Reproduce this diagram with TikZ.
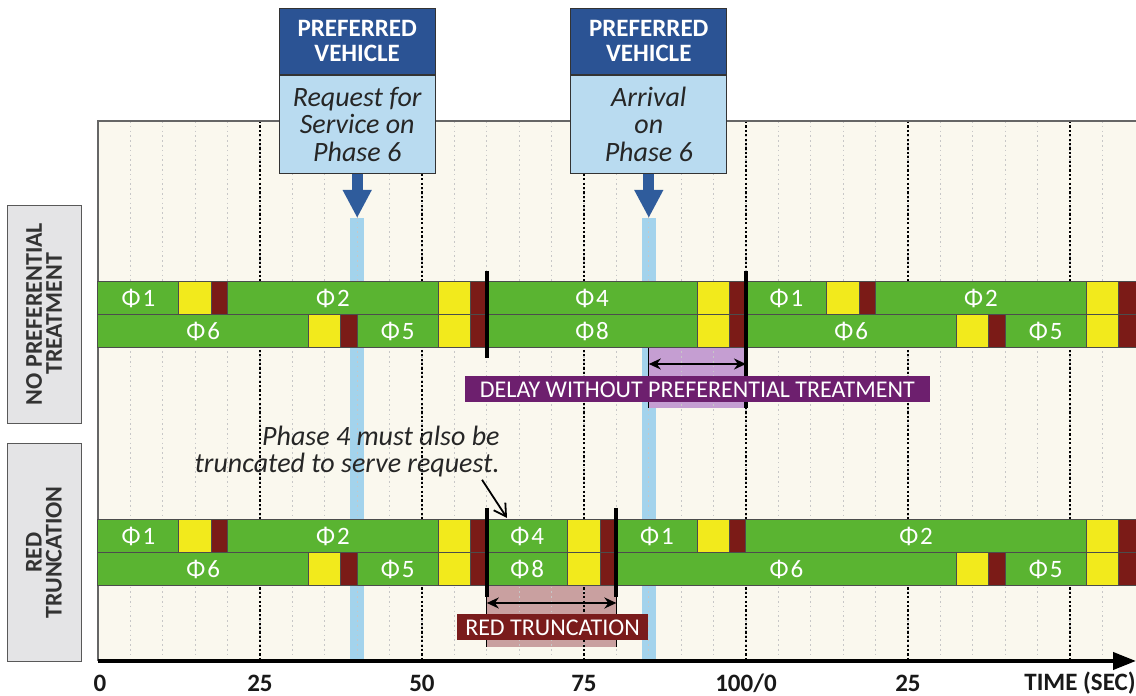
\documentclass[tikz,border=0pt]{standalone}
\usepackage{fontspec}
\setmainfont{Carlito}
\usepackage{tikz}
\usetikzlibrary{arrows.meta}
\definecolor{verde}{HTML}{5AB431}
\definecolor{amar}{HTML}{F2EA1C}
\definecolor{verm}{HTML}{7B1B17}
\definecolor{azulesc}{HTML}{2B5394}
\definecolor{azulcl}{HTML}{B9DBF0}
\definecolor{seta}{HTML}{2F5C9C}
\definecolor{faixa}{HTML}{A3D3EC}
\definecolor{creme}{HTML}{FAF8EE}
\definecolor{roxo}{HTML}{6D1F6E}
\definecolor{roxocl}{HTML}{C59ED2}
\definecolor{vinho}{HTML}{7A1C1C}
\definecolor{rosacl}{HTML}{C9A0A0}
\definecolor{cinza}{HTML}{E4E4E6}

\begin{document}
\begin{tikzpicture}[x=3.24pt, y=-0.5pt, >=Stealth,
  seg/.style={draw=black!70, line width=0.5pt},
  fase/.style={text=white, inner sep=0pt, font=\fontsize{12.5}{12.5}\selectfont},
  cab/.style={fill=azulesc, draw=black!80, text=white, align=center, minimum width=78pt,
    minimum height=33pt, inner sep=0pt, font=\bfseries\fontsize{12.5}{12.5}\selectfont},
  pedido/.style={fill=azulcl, draw=black!80, text=black!85, align=center, minimum width=78pt,
    minimum height=49pt, inner sep=0pt, font=\itshape\fontsize{14}{13.8}\selectfont},
  lado/.style={fill=cinza, draw=black!65, rotate=90, align=center, minimum width=109pt,
    minimum height=37pt, inner sep=0pt, text=black!80, font=\bfseries\fontsize{12}{10}\selectfont},
  rotulo/.style={text=white, inner sep=0pt, minimum height=13pt, font=\fontsize{12}{12}\selectfont},
  eixo/.style={text=black!90, inner sep=0pt, font=\bfseries\fontsize{12.5}{12.5}\selectfont},
  maior/.style={line width=1.1pt, dash pattern=on 1.1pt off 1.1pt},
  menor/.style={black!22, line width=0.6pt, dash pattern=on 0.8pt off 1.6pt},
  barra/.style={line width=2pt},
  cota/.style={<->, line width=1pt, >={Stealth[length=6pt,width=5.5pt]}},
  chamada/.style={line width=5.5pt, seta, -{Triangle[length=14pt,width=13.5pt]}},
]
  \def\fim{160.19}
  \useasboundingbox (-15.123,0) rectangle (\fim,696);
  % fundo do grafico
  \fill[creme] (0,121) rectangle (\fim,661);
  \fill[faixa] (38.92,218) rectangle (41.08,661);
  \fill[faixa] (83.92,218) rectangle (86.08,661);
  \fill[roxocl] (85,348) rectangle (100,408);
  \fill[rosacl] (60,586) rectangle (80,647);
  % grade
  \foreach \t in {5,10,...,155}
    \draw[menor] (\t,121) -- (\t,661);
  \foreach \t in {25,50,...,150}
    \draw[maior] (\t,121) -- (\t,661);
  \draw[black!60, line width=0.6pt] (0,661) -- (0,121) -- (\fim,121);

  % sem tratamento preferencial
  \foreach \a/\b/\c in {0/12.5/verde, 12.5/17.5/amar, 17.5/20/verm, 20/52.5/verde, 52.5/57.5/amar,
      57.5/60/verm, 60/92.5/verde, 92.5/97.5/amar, 97.5/100/verm, 100/112.5/verde,
      112.5/117.5/amar, 117.5/120/verm, 120/152.5/verde, 152.5/157.5/amar, 157.5/\fim/verm}
    \draw[seg, fill=\c] (\a,282) rectangle (\b,315);
  \foreach \a/\b/\c in {0/32.5/verde, 32.5/37.5/amar, 37.5/40/verm, 40/52.5/verde, 52.5/57.5/amar,
      57.5/60/verm, 60/92.5/verde, 92.5/97.5/amar, 97.5/100/verm, 100/132.5/verde,
      132.5/137.5/amar, 137.5/140/verm, 140/152.5/verde, 152.5/157.5/amar, 157.5/\fim/verm}
    \draw[seg, fill=\c] (\a,315) rectangle (\b,348);
  \foreach \t/\n [count=\i] in {6.25/1, 36.25/2, 76.25/4, 106.25/1, 136.25/2}
    \node[fase] (a\i) at (\t,298.5) {Φ\kern1pt\n};
  \foreach \t/\n [count=\i] in {16.25/6, 46.25/5, 76.25/8, 116.25/6, 146.25/5}
    \node[fase] (b\i) at (\t,331.5) {Φ\kern1pt\n};

  % truncamento do vermelho
  \foreach \a/\b/\c in {0/12.5/verde, 12.5/17.5/amar, 17.5/20/verm, 20/52.5/verde, 52.5/57.5/amar,
      57.5/60/verm, 60/72.5/verde, 72.5/77.5/amar, 77.5/80/verm, 80/92.5/verde,
      92.5/97.5/amar, 97.5/100/verm, 100/152.5/verde, 152.5/157.5/amar, 157.5/\fim/verm}
    \draw[seg, fill=\c] (\a,520) rectangle (\b,553);
  \foreach \a/\b/\c in {0/32.5/verde, 32.5/37.5/amar, 37.5/40/verm, 40/52.5/verde, 52.5/57.5/amar,
      57.5/60/verm, 60/72.5/verde, 72.5/77.5/amar, 77.5/80/verm, 80/132.5/verde,
      132.5/137.5/amar, 137.5/140/verm, 140/152.5/verde, 152.5/157.5/amar, 157.5/\fim/verm}
    \draw[seg, fill=\c] (\a,553) rectangle (\b,586);
  \foreach \t/\n [count=\i] in {6.25/1, 36.25/2, 66.25/4, 86.25/1, 126.25/2}
    \node[fase] (c\i) at (\t,536.5) {Φ\kern1pt\n};
  \foreach \t/\n [count=\i] in {16.25/6, 46.25/5, 66.25/8, 106.25/6, 146.25/5}
    \node[fase] (d\i) at (\t,569.5) {Φ\kern1pt\n};

  % fim de ciclo
  \draw[barra] (60,271) -- (60,358);
  \draw[barra] (100,271) -- (100,408);
  \draw[line width=0.6pt] (85,348) -- (85,408);
  \draw[barra] (60,508) -- (60,597);
  \draw[barra] (80,508) -- (80,597);
  \draw[line width=0.6pt] (60,597) -- (60,647);
  \draw[line width=0.6pt] (80,597) -- (80,647);

  % atraso
  \coordinate (atrA) at (85,364);
  \coordinate (atrB) at (100,364);
  \draw[cota] (atrA) -- (atrB);
  \node[rotulo, fill=roxo, minimum width=232.5pt] (atraso) at (92.5,389.5)
    {DELAY WITHOUT PREFERENTIAL TREATMENT};
  \coordinate (trA) at (60,603);
  \coordinate (trB) at (80,603);
  \draw[cota] (trA) -- (trB);
  \node[rotulo, fill=vinho, minimum width=95.5pt] (trunc) at (70.14,627.5) {RED TRUNCATION};

  % veiculo preferencial
  \node[cab, anchor=north] (h1) at (40,8) {PREFERRED\\VEHICLE};
  \node[pedido, anchor=north] (p1) at (h1.south) {Request for\\Service on\\Phase 6};
  \node[cab, anchor=north] (h2) at (85,8) {PREFERRED\\VEHICLE};
  \node[pedido, anchor=north] (p2) at (h2.south) {Arrival\\on\\Phase 6};
  \coordinate (f1) at (40,218);
  \coordinate (f2) at (85,218);
  \draw[chamada] (p1.south) -- (f1);
  \draw[chamada] (p2.south) -- (f2);

  % rotulos laterais
  \node[lado] (semtp) at (-8.33,314) {NO PREFERENTIAL\\TREATMENT};
  \node[lado] (verm) at (-8.33,552.5) {RED\\TRUNCATION};

  % nota
  \node[anchor=north east, align=right, inner sep=0pt, text=black!85,
    font=\itshape\fontsize{14}{13.5}\selectfont] (nota) at (62.04,426)
    {Phase 4 must also be\\truncated to serve request.};
  \coordinate (alvo) at (63.12,518);
  \draw[line width=0.9pt, -{Straight Barb[length=6pt,width=7pt]}]
    ([xshift=-9pt,yshift=-1pt]nota.south east) -- (alvo);

  % eixo do tempo
  \coordinate (o) at (0,661);
  \coordinate (fimx) at (\fim,661);
  \draw[line width=2pt, -{Triangle[length=11.5pt,width=8.5pt]}] (o) -- (fimx);
  \foreach \t/\l [count=\i] in {0.3/0, 25/25, 50/50, 75/75, 100/100\slash 0, 125/25}
    \node[eixo] (m\i) at (\t,683) {\l};
  \node[eixo, anchor=east] (tempo) at (\fim,683) {TIME (SEC)};
\end{tikzpicture}
\end{document}
